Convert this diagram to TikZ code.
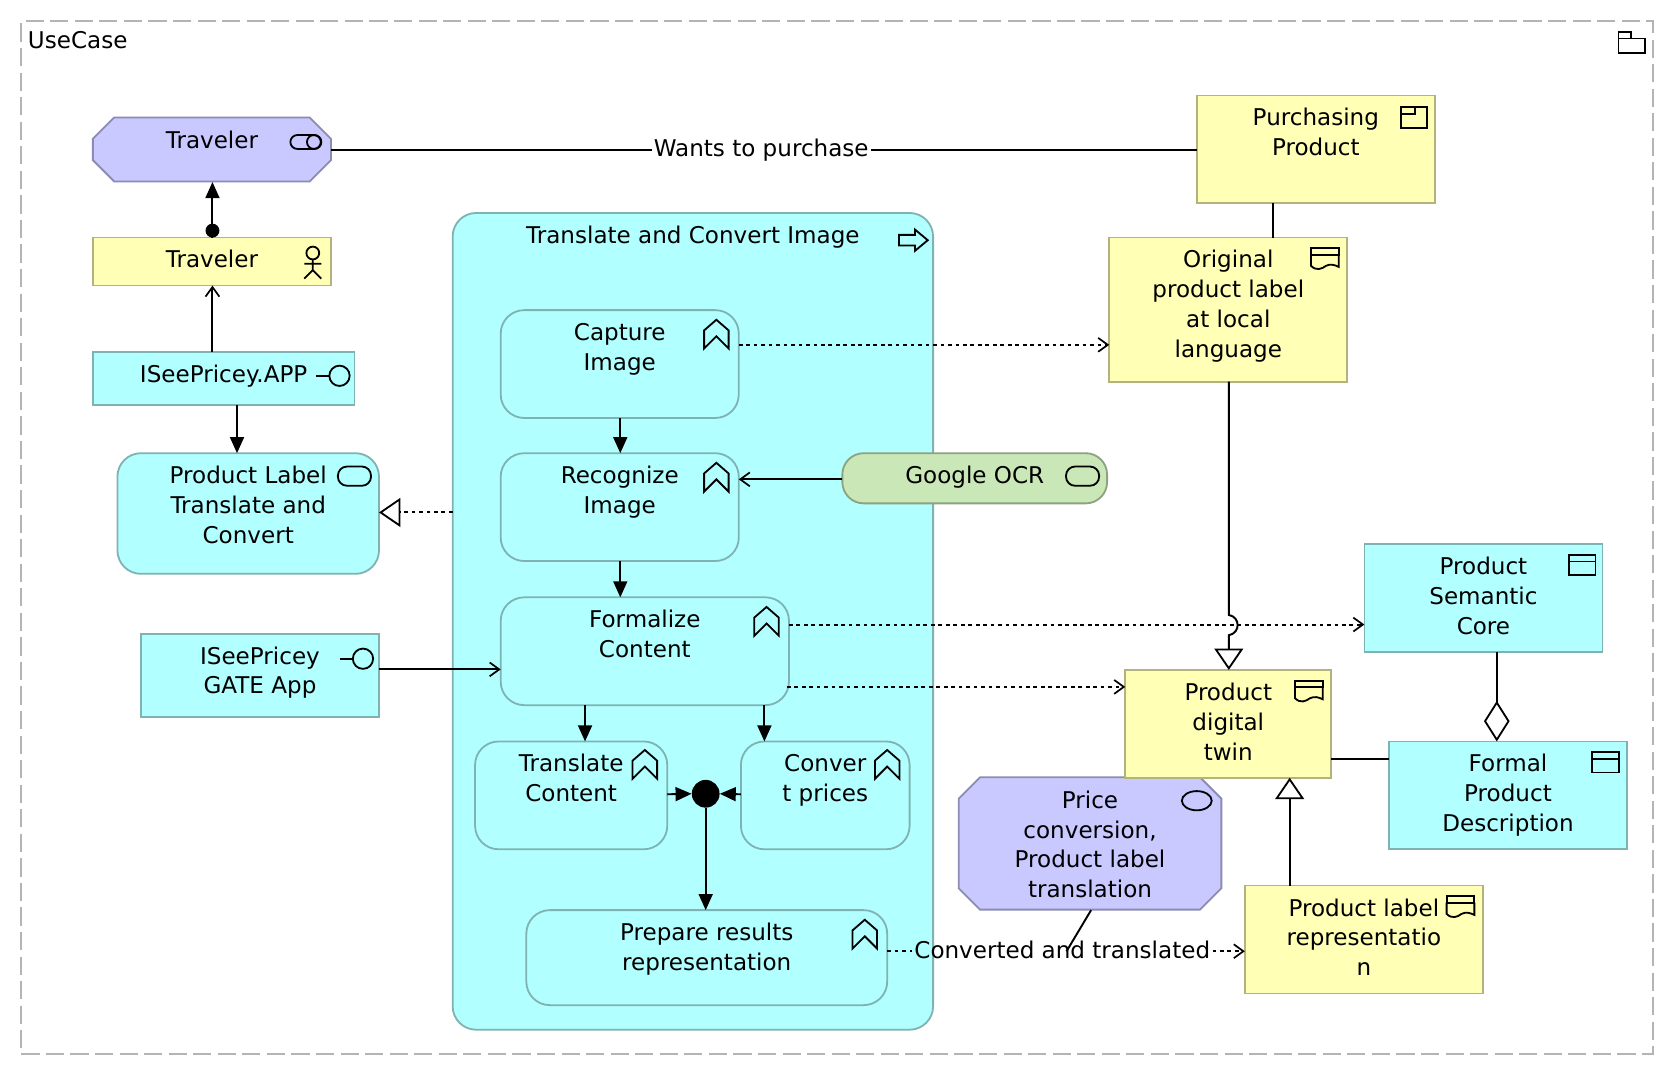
\documentclass[tikz,border=0pt]{standalone}
\usepackage{fontspec}
\setmainfont{DejaVu Sans}
\usetikzlibrary{arrows.meta}
\definecolor{cyanfill}{HTML}{B2FFFF}
\definecolor{cyanline}{HTML}{7FB3B3}
\definecolor{yelfill}{HTML}{FFFFB5}
\definecolor{yelline}{HTML}{B2B37F}
\definecolor{purfill}{HTML}{C9C9FF}
\definecolor{purline}{HTML}{8C8CB2}
\definecolor{grnfill}{HTML}{C9E7B7}
\definecolor{grnline}{HTML}{8DA280}
\definecolor{framegray}{HTML}{B4B4B4}
\newcommand{\txtfont}{\fontsize{21.6}{28}\selectfont}
\tikzset{
  x=1pt,y=-1pt,
  boxbase/.style={inner sep=0pt,outer sep=0pt,line width=1.7pt},
  cyanbox/.style={boxbase,draw=cyanline,fill=cyanfill},
  yelbox/.style={boxbase,draw=yelline,fill=yelfill},
  cyanround/.style={cyanbox,rounded corners=22pt},
  grnround/.style={boxbase,draw=grnline,fill=grnfill,rounded corners=20pt},
  plainbox/.style={boxbase},
  octa/.style={line width=1.7pt,draw=purline,fill=purfill},
  conn/.style={line width=1.8pt,black},
  dconn/.style={conn,dash pattern=on 3.5pt off 3.5pt},
  ftip/.style={-{Triangle[length=15pt,width=13pt]}},
  otip/.style={-{Straight Barb[length=9pt,width=13pt,line width=1.6pt]}},
  icon/.style={line width=1.7pt,black},
  lab/.style={inner sep=3pt,font=\txtfont,text=black},
}
% name, style, x1, y1, x2, y2, text
\newcommand{\bx}[7]{%
  \pgfmathsetmacro\bxw{#5-#3}\pgfmathsetmacro\bxh{#6-#4}%
  \pgfmathsetmacro\bxcx{(#3+#5)/2}\pgfmathsetmacro\bxcy{(#4+#6)/2+0.5}%
  \node[#2] (#1) at (\bxcx,\bxcy) {\parbox[c][\bxh pt][t]{\bxw pt}{\txtfont\centering\rule{0pt}{28.5pt}#7\par}};%
}
\newcommand{\icChevron}[2]{\draw[icon,shift={(#1,#2)}] (0,-13.5)--(11.5,-3.5)--(11.5,13.5)--(0,2)--(-11.5,13.5)--(-11.5,-3.5)--cycle;}
\newcommand{\icDoc}[2]{\draw[icon,shift={(#1,#2)}] (-13,-9.5) rectangle (13,-3.5);
  \draw[icon,shift={(#1,#2)}] (-13,-3.5)--(-13,7) .. controls (-8,12) and (-3,10) .. (1,7) .. controls (5,5) and (9,6) .. (13,8)--(13,-3.5);}
\newcommand{\icPill}[2]{\draw[icon,rounded corners=8.5pt] ({#1-15.5},{#2-9}) rectangle ({#1+15.5},{#2+9});}
\newcommand{\icIface}[2]{\draw[icon] ({#1-22},#2)--({#1-9},#2); \draw[icon] (#1,#2) circle (9.5);}
\newcommand{\icBizObj}[2]{\draw[icon] ({#1-12.5},{#2-9.5}) rectangle ({#1+12.5},{#2+9.5}); \draw[icon] ({#1-12.5},{#2-3})--({#1+12.5},{#2-3});}
\begin{document}
\begin{tikzpicture}
\useasboundingbox (0,0) rectangle (1568,1006);
\fill[white] (0,0) rectangle (1568,1006);
% frame
\node[boxbase,draw=framegray,dash pattern=on 17pt off 6pt,minimum width=1528pt,minimum height=967pt] (frame) at (784,503.5) {};
\node[lab,anchor=west,inner sep=0pt] (usecase) at (26,37.5) {UseCase};
\draw[icon] (1516,36) -- (1516,30) -- (1528,30) -- (1528,36);
\draw[icon] (1516,36) rectangle (1541,50);
% Octagon shapes
\draw[octa] (107,110)--(290,110)--(310,130)--(310,150)--(290,170)--(107,170)--(87,150)--(87,130)--cycle;
\draw[octa] (918,728)--(1124,728)--(1144,748)--(1144,832)--(1124,852)--(918,852)--(898,832)--(898,748)--cycle;
% Boxes
\bx{travrole}{plainbox}{87}{110}{310}{170}{Traveler}
\bx{travactor}{yelbox}{87}{222}{310}{267}{Traveler}
\bx{app}{cyanbox}{87}{329}{332}{379}{ISeePricey.APP}
\bx{pltc}{cyanround}{110}{424}{355}{537}{Product Label\\Translate and\\Convert}
\bx{gate}{cyanbox}{132}{593}{355}{671}{ISeePricey\\GATE App}
\bx{big}{cyanround}{424}{199}{874}{964}{Translate and Convert Image}
\bx{capture}{cyanround}{469}{290}{692}{391}{Capture\\Image}
\bx{recog}{cyanround}{469}{424}{692}{525}{Recognize\\Image}
\bx{formal}{cyanround}{469}{559}{739}{660}{Formalize\\Content}
\bx{transl}{cyanround}{445}{694}{625}{795}{Translate\\Content}
\bx{conv}{cyanround}{694}{694}{852}{795}{Conver\\t prices}
\bx{prep}{cyanround}{493}{852}{831}{941}{Prepare results\\representation}
\bx{ocr}{grnround}{789}{424}{1037}{471}{Google OCR}
\bx{purch}{yelbox}{1121}{89}{1344}{190}{Purchasing\\Product}
\bx{orig}{yelbox}{1039}{222}{1262}{357}{Original\\product label\\at local\\language}
\bx{core}{cyanbox}{1278}{509}{1501}{610}{Product\\Semantic\\Core}
\bx{twin}{yelbox}{1054}{627}{1247}{728}{Product\\digital\\twin}
\bx{fpd}{cyanbox}{1301}{694}{1524}{795}{Formal\\Product\\Description}
\bx{price}{plainbox}{898}{728}{1144}{852}{Price\\conversion,\\Product label\\translation}
\bx{rep}{yelbox}{1166}{829}{1389}{930}{Product label\\representatio\\n}
\node[circle,fill=black,inner sep=0pt,minimum size=26pt] (jn) at (661,743.5) {};
% Icons
\draw[icon,rounded corners=6.5pt] (272,126.5) rectangle (301,139.5);
\draw[icon] (294,133) circle (6.5);
\draw[icon] (293,237) circle (6);
\draw[icon] (293,243)--(293,253) (285,247)--(301,247) (285,261)--(293,253)--(301,261);
\icIface{318}{352}
\icPill{332}{446}
\draw[icon] (842,220)--(857,220)--(857,215)--(869,225)--(857,235)--(857,230)--(842,230)--cycle;
\icChevron{671}{313}
\icChevron{671}{447}
\icChevron{718}{582}
\icChevron{604}{716}
\icChevron{831}{716}
\icChevron{810}{875}
\icPill{1014}{446}
\icIface{340}{617}
\draw[icon] (1312,100) rectangle (1337,120);
\draw[icon] (1312,107)--(1325,107)--(1325,100);
\icDoc{1241}{242}
\icBizObj{1482}{529}
\icDoc{1226}{647}
\icBizObj{1504}{714}
\draw[icon] (1121,750) ellipse (14 and 9);
\icDoc{1368}{849}
% Connectors
\draw[conn] (travrole.east |- 0,140.3) -- (purch.west |- 0,140.3);
\node[lab,fill=white,inner sep=2pt,text depth=6pt,text height=20pt] (wants) at (713,140) {Wants to purchase};
\draw[conn,-{Triangle[length=15pt,width=13pt]}] (travactor.north -| 199,0) -- (travrole.south -| 199,0);
\node[circle,fill=black,inner sep=0pt,minimum size=13pt] (dot) at (199,216) {};
\draw[conn,otip] (app.north -| 199,0) -- (travactor.south -| 199,0);
\draw[conn,ftip] (app.south -| 222,0) -- (pltc.north -| 222,0);
\draw[dconn,-{Triangle[open,length=20pt,width=27pt,line width=1.7pt,fill=white]}] (big.west |- 0,480) -- (pltc.east |- 0,480);
\draw[conn,ftip] (capture.south -| 581,0) -- (recog.north -| 581,0);
\draw[conn,ftip] (recog.south -| 581,0) -- (formal.north -| 581,0);
\draw[conn,otip] (ocr.west |- 0,449) -- (recog.east |- 0,449);
\draw[conn,otip] (gate.east |- 0,627) -- (formal.west |- 0,627);
\draw[dconn,otip] (capture.east |- 0,323) -- (orig.west |- 0,323);
\draw[dconn,otip] (formal.east |- 0,585) -- (core.west |- 0,585);
\draw[dconn,otip] (737,643.4) -- (twin.west |- 0,643.4);
\draw[conn,ftip] (formal.south -| 548,0) -- (transl.north -| 548,0);
\draw[conn,ftip] (formal.south -| 716,0) -- (conv.north -| 716,0);
\draw[conn,ftip] (transl.east |- 0,744) -- (jn.west);
\draw[conn,ftip] (conv.west |- 0,744) -- (jn.east);
\draw[conn,ftip] (jn.south) -- (prep.north -| jn.south);
\node[lab,inner sep=2pt,text depth=6pt,text height=20pt] (conlab) at (995,891) {Converted and translated};
\draw[dconn] (prep.east |- 0,891) -- (conlab.west);
\draw[dconn,otip] (conlab.east) -- (rep.west |- 0,891);
\draw[conn] (price.south -| 1022,0) -- (999,891);
\draw[conn] (purch.south -| 1192,0) -- (orig.north -| 1192,0);
\draw[conn,-{Triangle[open,length=20pt,width=27pt,line width=1.7pt,fill=white]}] (orig.south -| 1151,0) -- (1151,576) .. controls (1162,578) and (1162,593) .. (1151,595) -- (twin.north -| 1151,0);
\draw[conn,-{Triangle[open,length=20pt,width=27pt,line width=1.7pt,fill=white]}] (rep.north -| 1208,0) -- (twin.south -| 1208,0);
\draw[conn,-{Diamond[open,length=38pt,width=24pt,line width=1.7pt,fill=white]}] (core.south -| 1402,0) -- (fpd.north -| 1402,0);
\draw[conn] (twin.east |- 0,711) -- (fpd.west |- 0,711);
\end{tikzpicture}
\end{document}
